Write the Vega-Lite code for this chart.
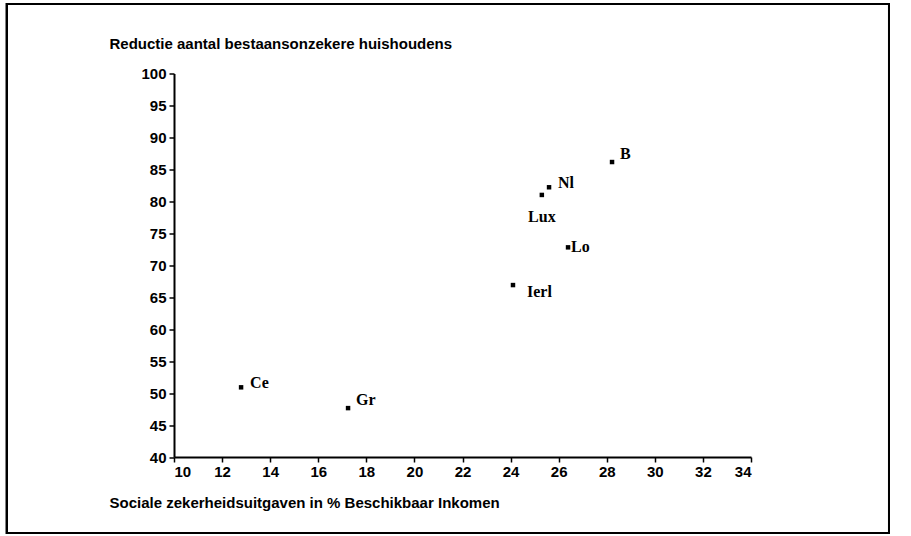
{
  "$schema": "https://vega.github.io/schema/vega-lite/v6.json",
  "autosize": "none",
  "width": 577,
  "height": 383.5,
  "padding": {"left": 174, "top": 73.5, "right": 160, "bottom": 79.5},
  "background": "white",
  "config": {
    "view": {"stroke": null},
    "axis": {
      "grid": false,
      "domainColor": "black",
      "domainWidth": 2,
      "tickColor": "black",
      "tickWidth": 1.5,
      "tickSize": 5,
      "labelFont": "Liberation Sans",
      "labelFontWeight": "bold",
      "labelFontSize": 15,
      "labelColor": "black",
      "titleFont": "Liberation Sans",
      "titleFontWeight": "bold",
      "titleFontSize": 15,
      "titleColor": "black"
    }
  },
  "data": {
    "values": [
      {"land": "B", "x": 28.22, "y": 86.15, "pos": "a"},
      {"land": "Nl", "x": 25.6, "y": 82.2, "pos": "b"},
      {"land": "Lux", "x": 25.3, "y": 81.0, "pos": "below"},
      {"land": "Lo", "x": 26.39, "y": 72.8, "pos": "c"},
      {"land": "Ierl", "x": 24.1, "y": 66.9, "pos": "d"},
      {"land": "Ce", "x": 12.79, "y": 50.9, "pos": "b"},
      {"land": "Gr", "x": 17.24, "y": 47.65, "pos": "a"}
    ]
  },
  "encoding": {
    "x": {
      "field": "x",
      "type": "quantitative",
      "scale": {"domain": [10, 34], "nice": false, "zero": false},
      "axis": {
        "values": [10, 12, 14, 16, 18, 20, 22, 24, 26, 28, 30, 32, 34],
        "labelPadding": 2,
        "title": "Sociale zekerheidsuitgaven in % Beschikbaar Inkomen",
        "titleAngle": 0,
        "titleAlign": "left",
        "titleBaseline": "middle",
        "titleX": -65,
        "titleY": 45.6
      }
    },
    "y": {
      "field": "y",
      "type": "quantitative",
      "scale": {"domain": [40, 100], "nice": false, "zero": false},
      "axis": {
        "values": [40, 45, 50, 55, 60, 65, 70, 75, 80, 85, 90, 95, 100],
        "labelPadding": 3,
        "title": "Reductie aantal bestaansonzekere huishoudens",
        "titleAngle": 0,
        "titleAlign": "left",
        "titleBaseline": "middle",
        "titleX": -65,
        "titleY": -30.5
      }
    }
  },
  "layer": [
    {
      "mark": {"type": "rect", "filled": false, "stroke": "black", "strokeWidth": 2},
      "encoding": {
        "x": {"datum": 3.05, "type": "quantitative"},
        "x2": {"datum": 39.74},
        "y": {"datum": 28.09, "type": "quantitative"},
        "y2": {"datum": 110.88}
      }
    },
    {
      "mark": {"type": "point", "shape": "square", "filled": true, "color": "black", "size": 20, "opacity": 1}
    },
    {
      "transform": [{"filter": "datum.pos === 'a'"}],
      "mark": {"type": "text", "align": "left", "baseline": "middle", "dx": 8, "dy": -8, "font": "Liberation Serif", "fontWeight": "bold", "fontSize": 16, "color": "black"},
      "encoding": {"text": {"field": "land"}}
    },
    {
      "transform": [{"filter": "datum.pos === 'b'"}],
      "mark": {"type": "text", "align": "left", "baseline": "middle", "dx": 9, "dy": -4, "font": "Liberation Serif", "fontWeight": "bold", "fontSize": 16, "color": "black"},
      "encoding": {"text": {"field": "land"}}
    },
    {
      "transform": [{"filter": "datum.pos === 'c'"}],
      "mark": {"type": "text", "align": "left", "baseline": "middle", "dx": 3, "dy": 0, "font": "Liberation Serif", "fontWeight": "bold", "fontSize": 16, "color": "black"},
      "encoding": {"text": {"field": "land"}}
    },
    {
      "transform": [{"filter": "datum.pos === 'd'"}],
      "mark": {"type": "text", "align": "left", "baseline": "middle", "dx": 14, "dy": 7, "font": "Liberation Serif", "fontWeight": "bold", "fontSize": 16, "color": "black"},
      "encoding": {"text": {"field": "land"}}
    },
    {
      "transform": [{"filter": "datum.pos === 'below'"}],
      "mark": {"type": "text", "align": "center", "baseline": "middle", "dx": 0, "dy": 22, "font": "Liberation Serif", "fontWeight": "bold", "fontSize": 16, "color": "black"},
      "encoding": {"text": {"field": "land"}}
    }
  ]
}
